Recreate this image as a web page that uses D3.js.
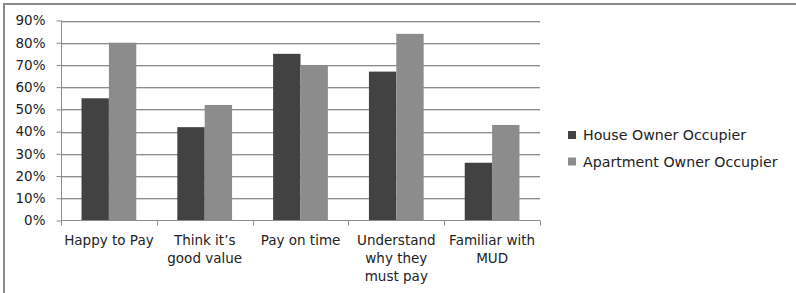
<!DOCTYPE html>
<html>
<head>
<meta charset="utf-8">
<script src="https://cdn.jsdelivr.net/npm/d3@7"></script>
<style>
  body { margin: 0; background: #fff; }
  text { font-family: "DejaVu Sans", sans-serif; fill: #222; }
</style>
</head>
<body>
<div id="chart"></div>
<script>
// values
var categories = ["Happy to Pay", "Think it's good value", "Pay on time", "Understand why they must pay", "Familiar with MUD"];
var labelLines = [["Happy to Pay"], ["Think it\u2019s", "good value"], ["Pay on time"], ["Understand", "why they", "must pay"], ["Familiar with", "MUD"]];
var seriesNames = ["House Owner Occupier", "Apartment Owner Occupier"];
var house = [55, 42, 75, 67, 26];
var apartment = [80, 52, 70, 84, 43];
var yTicks = [0, 10, 20, 30, 40, 50, 60, 70, 80, 90];
var colors = ["#424242", "#8c8c8c"];

var width = 796, height = 293;
var plot = {left: 61, right: 540, top: 20.5, bottom: 220.5};

var svg = d3.select('#chart').append('svg')
  .attr('width', width)
  .attr('height', height);

// outer frame (top + left only visible)
svg.append('path')
  .attr('d', 'M4,294 V4 H796')
  .attr('fill', 'none')
  .attr('stroke', '#8a8a8a')
  .attr('stroke-width', 2);

var x = d3.scaleBand().domain(categories).range([plot.left, plot.right]);
var inner = d3.scaleBand().domain(seriesNames).range([0, x.bandwidth()]).paddingOuter(0.75).paddingInner(0);
var y = d3.scaleLinear().domain([0, 90]).range([plot.bottom, plot.top]);

// gridlines
var grid = svg.append('g');
grid.selectAll('line.shadow').data(yTicks.slice(1)).enter().append('line')
  .attr('class', 'shadow')
  .attr('x1', plot.left).attr('x2', plot.right)
  .attr('y1', function(d) { return Math.round(y(d)) + 1.5; })
  .attr('y2', function(d) { return Math.round(y(d)) + 1.5; })
  .attr('stroke', '#d8d8d8');
grid.selectAll('line.main').data(yTicks.slice(1)).enter().append('line')
  .attr('class', 'main')
  .attr('x1', plot.left).attr('x2', plot.right)
  .attr('y1', function(d) { return Math.round(y(d)) + 0.5; })
  .attr('y2', function(d) { return Math.round(y(d)) + 0.5; })
  .attr('stroke', '#8c8c8c');

// bars
var series = [house, apartment];
series.forEach(function(vals, si) {
  svg.append('g').selectAll('rect').data(vals).enter().append('rect')
    .attr('x', function(d, i) { return x(categories[i]) + inner(seriesNames[si]); })
    .attr('y', function(d) { return y(d); })
    .attr('width', inner.bandwidth())
    .attr('height', function(d) { return y(0) - y(d); })
    .attr('fill', colors[si]);
});

// y axis
var yAxis = svg.append('g')
  .attr('transform', 'translate(' + (plot.left + 0.5) + ',0)')
  .call(d3.axisLeft(y).tickValues(yTicks).tickSize(5).tickPadding(11).tickFormat(function(d) { return d + '%'; }));
yAxis.select('.domain').attr('stroke', '#8c8c8c').attr('d', 'M0,' + plot.top + 'V' + plot.bottom);
yAxis.selectAll('.tick line').attr('stroke', '#8c8c8c');
yAxis.selectAll('text').style('font-size', '13.5px').attr('fill', '#222');

// x axis
var xAxis = svg.append('g')
  .attr('transform', 'translate(0,' + plot.bottom + ')');
xAxis.append('line')
  .attr('x1', plot.left).attr('x2', plot.right)
  .attr('stroke', '#8c8c8c');
xAxis.selectAll('line.tick').data(d3.range(categories.length + 1)).enter().append('line')
  .attr('class', 'tick')
  .attr('x1', function(i) { return Math.round(plot.left + i * x.step()) + 0.5; })
  .attr('x2', function(i) { return Math.round(plot.left + i * x.step()) + 0.5; })
  .attr('y1', 0).attr('y2', 5)
  .attr('stroke', '#8c8c8c');

var labels = xAxis.selectAll('text.cat').data(categories).enter().append('text')
  .attr('class', 'cat')
  .attr('text-anchor', 'middle')
  .style('font-size', '13.5px')
  .attr('transform', function(d) { return 'translate(' + (x(d) + x.bandwidth() / 2) + ',24)'; });
labels.each(function(d, i) {
  var t = d3.select(this);
  labelLines[i].forEach(function(line, li) {
    t.append('tspan').attr('x', 0).attr('y', li * 18).text(line);
  });
});

// legend
var legend = svg.append('g').attr('transform', 'translate(568,135)');
seriesNames.forEach(function(name, i) {
  var g = legend.append('g').attr('transform', 'translate(0,' + (i * 26.5) + ')');
  g.append('rect').attr('x', 0).attr('y', -4).attr('width', 8).attr('height', 8).attr('fill', colors[i]);
  g.append('text').attr('x', 15).attr('y', 5).style('font-size', '14.2px').text(name);
});
</script>
</body>
</html>
